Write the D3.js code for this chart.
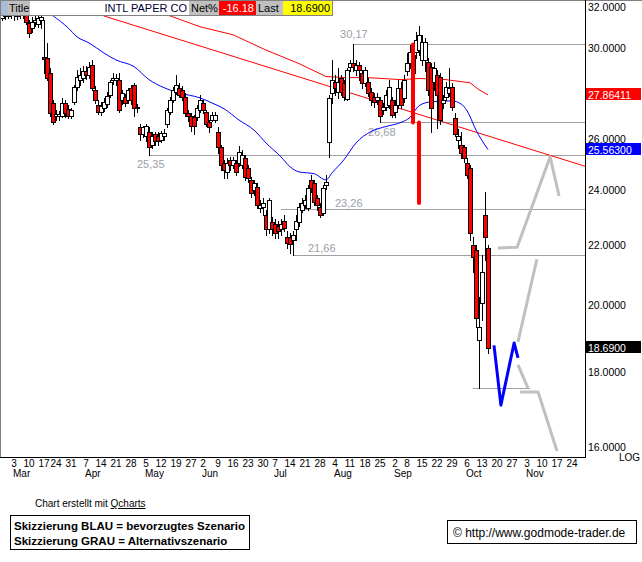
<!DOCTYPE html>
<html><head><meta charset="utf-8">
<script src="https://cdn.jsdelivr.net/npm/d3@7"></script>
<style>body{margin:0;background:#fff;}svg{display:block;font-family:"Liberation Sans",Arial,sans-serif;}</style>
</head><body><svg id="c" width="642" height="562"></svg>
<script>
// ---- data (trading-day index 0 = 3 Mar 2008) ----
const firstIdx = -4;
const open = [31.46,31.66,31.56,31.71,31.61,31.66,31.61,31.71,31.61,31.22,30.97,31.27,31.17,31.36,29.58,29.54,28.86,27.51,26.93,26.93,
26.97,27.51,27.26,26.97,27.56,28.22,28.54,28.63,28.91,28.77,29.22,28.09,27.43,27.14,27.31,27.47,27.86,28.54,28.54,28.54,
27.64,27.77,27.64,28.18,28.31,27.31,26.47,26.18,26.10,26.30,25.76,26.18,26.10,25.97,26.10,26.60,27.14,27.64,27.99,28.18,
28.09,27.77,27.10,26.93,26.89,26.89,27.22,27.51,27.14,26.68,26.80,26.80,26.30,25.67,25.04,24.68,25.16,24.96,25.04,25.04,
24.96,25.24,24.84,24.37,23.99,24.09,23.32,23.36,23.07,22.54,22.79,22.72,22.68,22.54,22.83,22.29,22.29,22.18,22.54,22.79,
23.25,23.43,23.32,24.37,24.25,23.68,23.36,23.14,24.19,25.87,27.95,28.45,27.99,28.63,28.40,27.68,29.13,29.31,28.99,29.22,
28.86,28.40,28.45,27.99,27.77,27.64,27.64,27.22,27.35,27.43,27.64,27.14,27.43,28.18,27.73,28.91,29.31,29.67,29.81,29.90,
29.45,29.45,29.36,29.13,28.45,28.77,28.68,27.51,27.77,27.95,28.22,26.85,25.97,25.76,25.67,25.04,24.84,21.99,21.82,18.94,
20.07,23.07,21.89];
const high = [31.85,31.85,31.95,31.90,31.85,31.80,31.85,31.85,31.75,31.36,31.51,31.61,31.66,31.71,31.36,30.24,29.08,27.64,27.22,27.18,
27.73,27.64,27.43,27.31,28.31,28.99,29.08,29.18,29.18,29.36,29.45,28.27,27.64,27.56,27.73,27.99,28.54,28.86,28.81,28.86,
28.09,27.90,28.18,28.31,28.40,27.47,26.60,26.55,26.60,26.47,26.26,26.30,26.26,26.34,26.39,27.31,27.77,28.22,28.77,28.40,
28.27,27.95,27.22,27.10,27.01,27.43,27.86,27.64,27.22,26.80,27.14,27.14,26.47,25.76,25.16,25.24,25.27,25.27,25.16,25.71,
25.55,25.35,24.96,24.49,24.37,24.25,23.61,23.70,23.25,23.70,22.97,22.90,22.83,22.90,23.07,22.47,22.43,22.47,23.07,23.50,
23.70,23.80,24.19,24.57,24.37,23.80,23.50,24.19,24.57,27.86,29.44,28.77,29.08,28.77,28.54,29.08,29.45,30.17,29.45,29.36,
28.99,29.13,28.63,28.18,27.95,27.95,27.77,27.51,28.09,28.54,27.77,27.64,28.54,28.45,28.77,29.76,30.14,30.14,30.78,31.07,
30.63,30.48,29.54,29.31,29.36,28.99,28.86,27.86,28.45,29.08,28.40,27.10,26.39,26.30,25.76,25.24,24.96,22.27,21.99,20.27,
21.65,23.91,21.99];
const low = [31.36,31.41,31.46,31.46,31.36,31.41,31.46,31.46,31.17,30.53,30.78,31.07,31.02,30.97,28.86,28.53,26.93,26.60,26.80,26.80,
26.89,26.89,26.85,26.85,27.47,28.09,28.31,28.45,28.59,28.63,28.09,27.51,27.05,27.01,27.18,27.35,27.77,28.36,28.31,27.14,
27.47,27.39,27.51,27.47,26.93,27.14,25.97,26.06,25.89,25.35,25.63,25.76,25.76,25.85,25.97,26.47,27.05,27.56,27.90,27.77,
27.64,26.97,26.76,26.34,26.18,26.80,27.14,27.10,26.51,26.26,26.72,26.68,25.43,24.76,24.44,24.44,24.76,24.84,24.57,24.92,
24.84,24.37,24.29,23.74,23.80,23.32,23.18,23.07,22.36,22.43,22.36,22.25,22.25,22.36,22.47,21.89,21.71,21.66,22.18,22.68,
23.18,23.32,23.25,23.92,23.43,23.25,22.97,23.07,24.02,25.27,27.51,27.86,27.73,27.86,27.64,27.64,28.91,28.91,28.77,28.54,
28.18,28.27,27.81,27.43,27.35,27.47,26.68,27.05,27.22,27.31,26.89,26.89,27.31,27.31,27.56,28.77,29.08,28.54,29.54,29.67,
29.22,28.91,27.86,26.26,28.09,26.43,26.60,27.31,27.64,27.81,27.22,26.10,25.63,25.24,25.08,24.45,22.17,21.09,19.33,17.56,
19.54,21.48,18.55];
const close = [31.66,31.56,31.75,31.61,31.71,31.56,31.71,31.61,31.27,30.73,31.27,31.36,31.46,31.51,29.49,28.63,27.10,26.68,27.05,27.05,
27.51,27.10,26.93,27.22,28.22,28.68,28.77,28.91,28.77,29.13,28.18,27.64,27.14,27.39,27.56,27.81,28.45,28.63,28.63,27.22,
27.95,27.51,28.09,27.64,27.31,27.35,26.18,26.47,26.51,25.67,26.10,25.89,25.93,26.22,26.22,27.22,27.64,28.09,28.31,27.86,
27.77,27.10,26.93,26.51,26.51,27.31,27.64,27.22,26.60,26.47,27.01,27.01,25.67,24.96,24.76,25.04,24.96,25.16,24.68,25.47,
25.35,24.49,24.45,23.86,24.25,23.43,23.43,23.50,22.54,23.61,22.54,22.43,22.47,22.75,22.58,22.07,22.04,22.36,22.83,23.36,
23.50,23.61,24.06,24.06,23.54,23.43,23.07,24.06,24.29,27.73,28.54,28.18,28.45,27.99,27.77,28.99,29.31,29.13,29.22,28.99,
28.40,28.99,27.95,27.64,27.56,27.77,26.93,27.35,27.86,28.22,27.01,27.43,28.18,27.43,28.54,29.31,29.81,28.86,30.38,30.63,
30.29,30.29,28.09,27.31,29.08,27.86,26.80,27.64,28.22,28.18,27.35,26.18,26.10,25.43,25.24,24.57,22.43,21.59,19.59,19.33,
21.09,22.29,18.69];

// moving averages (sampled) and trendline
const blueMAIdx = [13,18,21,25,30,34,40,45,50,55,62,66,70,75,80,84,89,92,95,100,104,106,110,114,119,124,129,132,135,139,146,149,151,154,158];
const blueMAVal = [31.56,30.97,30.53,30.24,29.76,29.44,29.13,28.54,28.18,27.95,27.73,27.51,27.26,26.78,26.36,25.83,25.27,24.88,24.68,24.61,24.37,24.64,25.16,25.83,26.30,26.51,26.68,26.89,27.39,27.56,27.60,27.47,27.18,26.36,25.563];
const redMAIdx = [51,62,73,84,95,104,111,118,129,135,144,149,152,155,158];
const redMAVal = [31.61,31.02,30.63,29.90,29.27,28.68,28.63,28.63,28.54,28.59,28.54,28.45,28.40,28.09,27.86411];
const trendIdx = [30,190.33];
const trendVal = [31.55,24.90];

// support / resistance levels
const levelVal = [30.17,26.68,25.35,23.26,21.66,17.56];
const levelText = ["30,17","26,68","25,35","23,26","21,66",""];
const levelFrom = [113,122,45,89,93,153];
const levelTo = [190.33,190.33,190.33,190.33,190.33,172];

// sketched scenarios
const blueScenIdx = [160,162.3,166.7,168];
const blueScenVal = [18.78,17.09,18.85,18.41];
const grayScen = [
  {idx:[161.3,167.7,178.7,181.7], val:[21.89,21.92,25.27,23.76]},
  {idx:[168,174.3], val:[18.88,21.51]},
  {idx:[168,171.3], val:[18.21,17.56]},
  {idx:[168.7,174.7,181], val:[17.45,17.45,15.9]}
];
const redBarIdx = [133,135];
const redBarTop = [30.17,26.68];
const redBarBot = [26.68,23.50];

// axes
const priceTicks = [32,30,26,24,22,20,18,16];
const weekIdx = [0,5,10,14,19,24,29,34,39,44,49,54,59,63,68,73,78,83,87,92,97,102,107,112,117,122,127,131,136,141,146,151,156,161,166,171,176,181,186];
const weekLabels = ["3","10","17","24","31","7","14","21","28","5","12","19","27","2","9","16","23","30","7","14","21","28","4","11","18","25","2","8","15","22","29","6","13","20","27","3","10","17","24"];
const monthIdx = [0,24,44,63,87,107,127,151,171];
const monthLabels = ["Mar","Apr","May","Jun","Jul","Aug","Sep","Oct","Nov"];
const markVal = [27.86411,25.563,18.69];
const markText = ["27.86411","25.56300","18.6900"];
const markColor = ["#ff0000","#0000ff","#000000"];

// ---- drawing ----
const svg = d3.select("#c");
const plotR = 585, plotB = 457;
const x = d3.scaleLinear().domain([0,1]).range([14,17]);
const y = d3.scaleLog().domain([16,32]).range([447,7]);

svg.append("defs").append("clipPath").attr("id","clip")
  .append("rect").attr("x",1).attr("y",1).attr("width",plotR-1).attr("height",plotB-1);
const g = svg.append("g").attr("clip-path","url(#clip)");

// levels
levelVal.forEach((v,k)=>{
  const yy = Math.round(y(v))+0.5;
  g.append("line").attr("x1",x(levelFrom[k])).attr("x2",x(levelTo[k]))
    .attr("y1",yy).attr("y2",yy).attr("stroke","#a0a0a0").attr("stroke-width",1);
});
const lblIdx = [108.7,118,41,107,98];
const lblDy = [-6,14,13,-2,-3];
levelText.forEach((t,k)=>{
  if(!t) return;
  g.append("text").attr("x",x(lblIdx[k])).attr("y",y(levelVal[k])+lblDy[k])
    .attr("font-size",11).attr("fill","#9aa0aa").text(t);
});

// MAs & trend
const line = d3.line().x(d=>x(d[0])).y(d=>y(d[1]));
g.append("path").attr("d",line(trendIdx.map((d,k)=>[d,trendVal[k]]))).attr("fill","none").attr("stroke","#ff0000").attr("stroke-width",1);
g.append("path").attr("d",line(redMAIdx.map((d,k)=>[d,redMAVal[k]]))).attr("fill","none").attr("stroke","#ff0000").attr("stroke-width",1);
g.append("path").attr("d",d3.line().x(d=>x(d[0])).y(d=>y(d[1])).curve(d3.curveMonotoneX)(blueMAIdx.map((d,k)=>[d,blueMAVal[k]]))).attr("fill","none").attr("stroke","#0000ff").attr("stroke-width",1);

// candles
open.forEach((o,k)=>{
  const i = firstIdx + k, c = close[k];
  const cx = Math.round(x(i));
  g.append("line").attr("x1",cx+0.5).attr("x2",cx+0.5)
    .attr("y1",Math.round(y(high[k]))).attr("y2",Math.round(y(low[k]))+1)
    .attr("stroke","#000").attr("stroke-width",1);
  const top = Math.round(y(Math.max(o,c))), bot = Math.round(y(Math.min(o,c)));
  g.append("rect").attr("x",cx-1.5).attr("y",top+0.5).attr("width",4).attr("height",Math.max(bot-top,0))
    .attr("fill", c<o ? "#ff0000" : "#ffffff").attr("stroke","#000").attr("stroke-width",1);
});

// red measurement bars
redBarIdx.forEach((i,k)=>{
  g.append("line").attr("x1",x(i)).attr("x2",x(i)).attr("y1",y(redBarTop[k])).attr("y2",y(redBarBot[k]))
    .attr("stroke","#ff0000").attr("stroke-width",4).attr("stroke-linecap","round");
});

// scenarios
grayScen.forEach(s=>{
  g.append("path").attr("d",line(s.idx.map((d,k)=>[d,s.val[k]]))).attr("fill","none")
    .attr("stroke","#c0c0c0").attr("stroke-width",3).attr("stroke-linejoin","round");
});
g.append("path").attr("d",line(blueScenIdx.map((d,k)=>[d,blueScenVal[k]]))).attr("fill","none")
  .attr("stroke","#0000ff").attr("stroke-width",3).attr("stroke-linejoin","round");

// frame
svg.append("line").attr("x1",0).attr("x2",642).attr("y1",0.5).attr("y2",0.5).attr("stroke","#808080");
svg.append("line").attr("x1",0.5).attr("x2",0.5).attr("y1",0).attr("y2",plotB).attr("stroke","#808080");
svg.append("line").attr("x1",plotR+0.5).attr("x2",plotR+0.5).attr("y1",0).attr("y2",plotB+1).attr("stroke","#000");
svg.append("line").attr("x1",0).attr("x2",plotR+1).attr("y1",plotB+0.5).attr("y2",plotB+0.5).attr("stroke","#000");

// y axis labels
priceTicks.forEach(v=>{
  svg.append("text").attr("x",588).attr("y",y(v)+4).attr("font-size",10.5).attr("fill","#000").text(v.toFixed(4));
});
markVal.forEach((v,k)=>{
  const yy = Math.round(y(v));
  svg.append("rect").attr("x",586).attr("y",yy-7).attr("width",55).attr("height",12).attr("fill",markColor[k]);
  svg.append("text").attr("x",588).attr("y",yy+4).attr("font-size",10.5).attr("fill","#fff").text(markText[k]);
});
svg.append("rect").attr("x",618).attr("y",452).attr("width",23).attr("height",10).attr("fill","#fff");
svg.append("text").attr("x",619).attr("y",461).attr("font-size",10).attr("fill","#000").text("LOG");

// x axis labels
weekIdx.forEach((i,k)=>{
  svg.append("text").attr("x",x(i)).attr("y",467).attr("text-anchor","middle").attr("font-size",10).attr("fill","#000").text(weekLabels[k]);
});
monthIdx.forEach((i,k)=>{
  svg.append("text").attr("x",x(i)-1).attr("y",477).attr("font-size",10).attr("fill","#000").text(monthLabels[k]);
});

// title bar
const tb = svg.append("g");
tb.append("rect").attr("x",0.5).attr("y",0.5).attr("width",332).attr("height",15).attr("fill","#fff").attr("stroke","#808080");
tb.append("rect").attr("x",1).attr("y",1).attr("width",29).attr("height",14).attr("fill","#c0c0c0");
tb.append("rect").attr("x",1).attr("y",1).attr("width",7).attr("height",14).attr("fill","#a9bcd6");
tb.append("text").attr("x",9).attr("y",12).attr("font-size",11).text("Title");
tb.append("text").attr("x",187).attr("y",12).attr("text-anchor","end").attr("font-size",11).attr("fill","#000033").text("INTL PAPER CO");
tb.append("rect").attr("x",189).attr("y",1).attr("width",30).attr("height",14).attr("fill","#c0c0c0");
tb.append("text").attr("x",191).attr("y",12).attr("font-size",11).text("Net%");
tb.append("rect").attr("x",219).attr("y",1).attr("width",37).attr("height",14).attr("fill","#ff0000");
tb.append("text").attr("x",254).attr("y",12).attr("text-anchor","end").attr("font-size",11).attr("fill","#fff").text("-16.18");
tb.append("rect").attr("x",256).attr("y",1).attr("width",27).attr("height",14).attr("fill","#c0c0c0");
tb.append("text").attr("x",258).attr("y",12).attr("font-size",11).text("Last");
tb.append("rect").attr("x",283).attr("y",1).attr("width",49).attr("height",14).attr("fill","#ffff00");
tb.append("text").attr("x",330).attr("y",12).attr("text-anchor","end").attr("font-size",11).text("18.6900");

// footer
svg.append("text").attr("x",35).attr("y",507).attr("font-size",10).text("Chart erstellt mit ")
  .append("tspan").attr("text-decoration","underline").text("Qcharts");
svg.append("rect").attr("x",10.5).attr("y",515.5).attr("width",239).attr("height",34).attr("fill","#fff").attr("stroke","#000");
svg.append("text").attr("x",14).attr("y",530).attr("font-size",11.5).attr("font-weight","bold").text("Skizzierung BLAU = bevorzugtes Szenario");
svg.append("text").attr("x",14).attr("y",545).attr("font-size",11.5).attr("font-weight","bold").text("Skizzierung GRAU = Alternativszenario");
svg.append("rect").attr("x",447.5).attr("y",520.5).attr("width",189).attr("height",23).attr("fill","#fff").attr("stroke","#000");
svg.append("text").attr("x",453).attr("y",537).attr("font-size",12).text("© http://www.godmode-trader.de");
</script></body></html>
